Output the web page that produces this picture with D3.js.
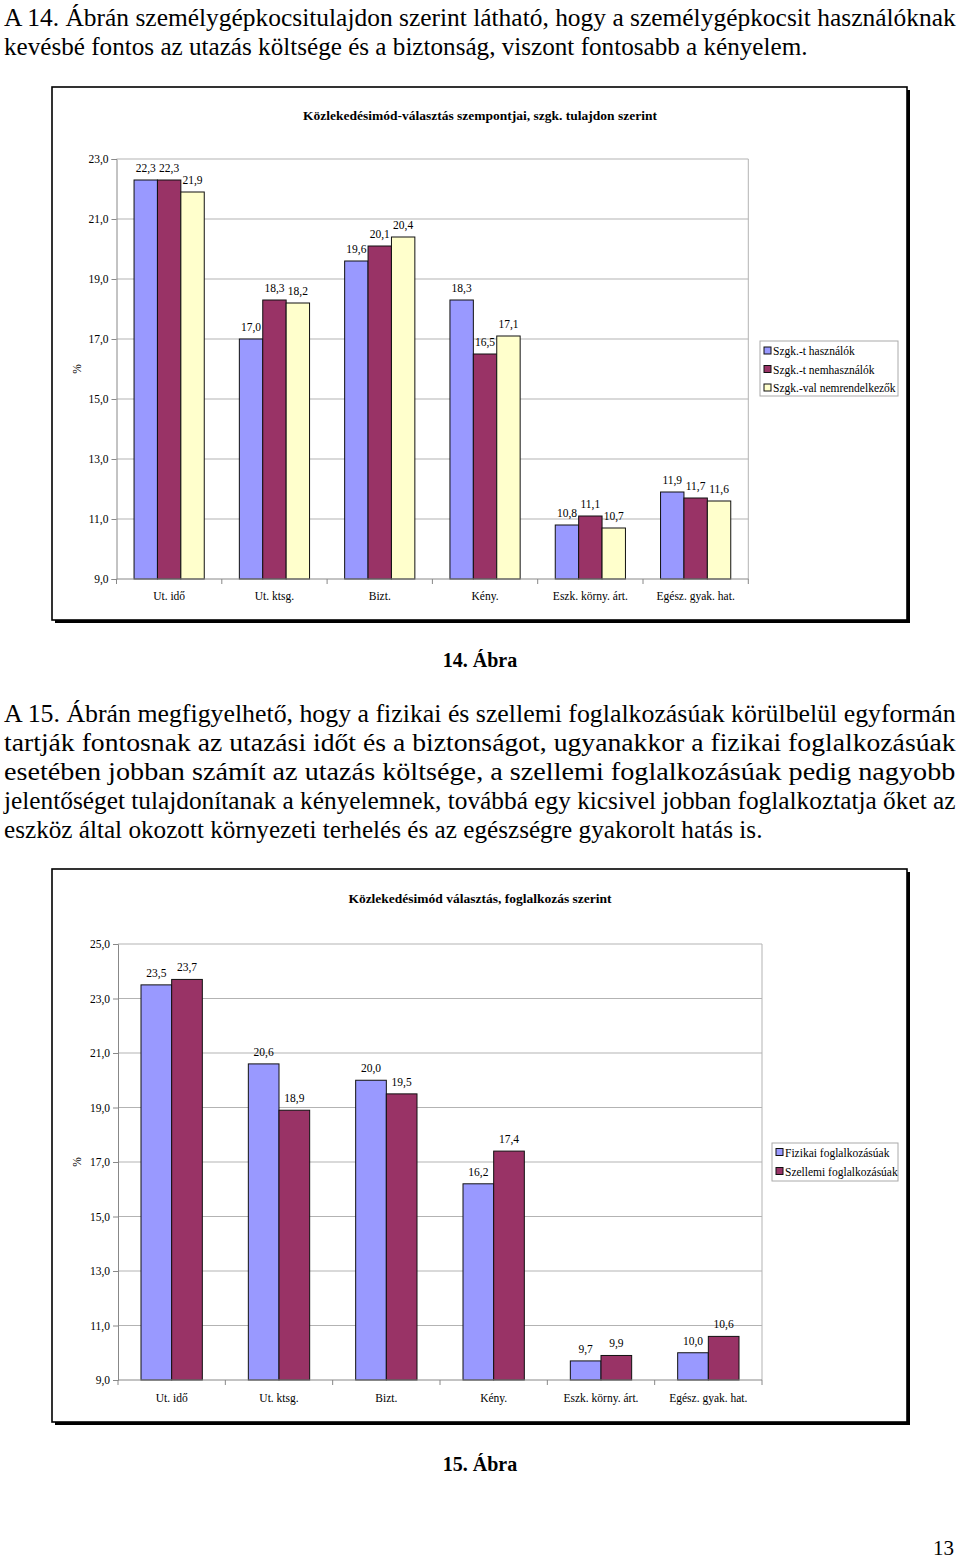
<!DOCTYPE html>
<html><head><meta charset="utf-8">
<script src="https://cdn.jsdelivr.net/npm/d3@7"></script>
<style>
body{margin:0;background:#fff}
svg{display:block}
text{font-family:"Liberation Serif","Times New Roman",serif;fill:#000}
</style></head>
<body><svg id="page" width="960" height="1561"></svg>
<script>
// ---------- DATA ----------
const categories = ["Ut. idő","Ut. ktsg.","Bizt.","Kény.","Eszk. körny. árt.","Egész. gyak. hat."];

const series1Names = ["Szgk.-t használók","Szgk.-t nemhasználók","Szgk.-val nemrendelkezők"];
const carUsers    = [22.3,17.0,19.6,18.3,10.8,11.9];
const carNonUsers = [22.3,18.3,20.1,16.5,11.1,11.7];
const noCar       = [21.9,18.2,20.4,17.1,10.7,11.6];
const yTicks1 = [9,11,13,15,17,19,21,23];

const series2Names = ["Fizikai foglalkozásúak","Szellemi foglalkozásúak"];
const physical = [23.5,20.6,20.0,16.2,9.7,10.0];
const mental   = [23.7,18.9,19.5,17.4,9.9,10.6];
const yTicks2 = [9,11,13,15,17,19,21,23,25];

const title1 = "Közlekedésimód-választás szempontjai, szgk. tulajdon szerint";
const title2 = "Közlekedésimód választás, foglalkozás szerint";

const para1 = [
  "A 14. Ábrán személygépkocsitulajdon szerint látható, hogy a személygépkocsit használóknak",
  "kevésbé fontos az utazás költsége és a biztonság, viszont fontosabb a kényelem."
];
const para2 = [
  "A 15. Ábrán megfigyelhető, hogy a fizikai és szellemi foglalkozásúak körülbelül egyformán",
  "tartják fontosnak az utazási időt és a biztonságot, ugyanakkor a fizikai foglalkozásúak",
  "esetében jobban számít az utazás költsége, a szellemi foglalkozásúak pedig nagyobb",
  "jelentőséget tulajdonítanak a kényelemnek, továbbá egy kicsivel jobban foglalkoztatja őket az",
  "eszköz által okozott környezeti terhelés és az egészségre gyakorolt hatás is."
];
const caption1 = "14. Ábra";
const caption2 = "15. Ábra";
const pageNumber = "13";

// ---------- STYLE ----------
const COLORS = ["#9999FF","#993366","#FFFFCC"];
const svg = d3.select("#page");
svg.append("rect").attr("width",960).attr("height",1561).attr("fill","#fff");

// body text lines: scaled horizontally to the measured line widths
function textLines(lines, y0, widths){
  lines.forEach((l,i)=>{
    const t = svg.append("text").attr("x",0).attr("y",0)
      .attr("font-size",25.5).text(l);
    const nat = t.node().getComputedTextLength();
    const k = widths[i]/nat;
    t.attr("transform",`translate(4,${y0+i*29}) scale(${k},1)`);
  });
}
textLines(para1, 26, [952, 804]);
textLines(para2, 722, [952,952,952,952,759]);

svg.append("text").attr("x",480).attr("y",667).attr("text-anchor","middle")
  .attr("font-size",20).attr("font-weight","bold").text(caption1);
svg.append("text").attr("x",480).attr("y",1471).attr("text-anchor","middle")
  .attr("font-size",20).attr("font-weight","bold").text(caption2);
svg.append("text").attr("x",954).attr("y",1555).attr("text-anchor","end")
  .attr("font-size",21).text(pageNumber);

const fmt = v => d3.format(".1f")(v).replace(".",",");

function drawChart(cfg){
  const g = svg.append("g");
  const f = cfg.frame;
  // frame with shadow
  g.append("path").attr("d",`M${f.x0+3},${f.y1+1.5}H${f.x1+1.5}V${f.y0+3}`)
    .attr("fill","none").attr("stroke","#000").attr("stroke-width",3);
  g.append("rect").attr("x",f.x0).attr("y",f.y0).attr("width",f.x1-f.x0).attr("height",f.y1-f.y0)
    .attr("fill","#fff").attr("stroke","#000").attr("stroke-width",1.6);

  const p = cfg.plot;
  const y = d3.scaleLinear().domain(cfg.domain).range([p.y1,p.y0]);
  const x0 = d3.scaleBand().domain(categories).range([p.x0,p.x1]).padding(0);
  const bw = x0.bandwidth();
  const nS = cfg.names.length;
  const barW = bw/(nS+1.5);
  const x1 = d3.scaleBand().domain(cfg.names).range([barW*0.75, bw-barW*0.75]).padding(0);

  // gridlines
  g.append("g").selectAll("line").data(cfg.ticks.slice(1)).join("line")
    .attr("x1",p.x0).attr("x2",p.x1).attr("y1",d=>y(d)).attr("y2",d=>y(d))
    .attr("stroke","#b3b3b3").attr("stroke-width",1);
  // right plot border
  g.append("line").attr("x1",p.x1).attr("x2",p.x1).attr("y1",p.y0).attr("y2",p.y1)
    .attr("stroke","#b3b3b3").attr("stroke-width",1);

  // y axis
  const ya = g.append("g").attr("transform",`translate(${p.x0},0)`)
    .call(d3.axisLeft(y).tickValues(cfg.ticks).tickFormat(fmt).tickSize(5).tickPadding(3));
  ya.select(".domain").attr("stroke","#888");
  ya.selectAll(".tick line").attr("stroke","#888");
  ya.selectAll("text").attr("font-size",11.5).attr("font-family","Liberation Serif, serif").attr("fill","#000");

  // bars
  cfg.values.forEach((vals,si)=>{
    g.append("g").selectAll("rect").data(vals).join("rect")
      .attr("x",(d,i)=>x0(categories[i])+x1(cfg.names[si]))
      .attr("y",d=>y(d)).attr("width",x1.bandwidth()).attr("height",d=>y(cfg.domain[0])-y(d))
      .attr("fill",COLORS[si]).attr("stroke","#111").attr("stroke-width",1);
  });
  // labels
  cfg.values.forEach((vals,si)=>{
    g.append("g").selectAll("text").data(vals).join("text")
      .attr("x",(d,i)=>x0(categories[i])+x1(cfg.names[si])+x1.bandwidth()/2)
      .attr("y",d=>y(d)-8).attr("text-anchor","middle").attr("font-size",11.5)
      .text(fmt);
  });

  // x axis
  const xa = g.append("g").attr("transform",`translate(0,${p.y1})`);
  xa.append("line").attr("x1",p.x0).attr("x2",p.x1).attr("stroke","#888");
  xa.selectAll(".tk").data(d3.range(categories.length+1)).join("line").attr("class","tk")
    .attr("x1",i=>p.x0+i*bw).attr("x2",i=>p.x0+i*bw).attr("y1",0).attr("y2",5).attr("stroke","#888");
  xa.selectAll("text").data(categories).join("text")
    .attr("x",d=>x0(d)+bw/2).attr("y",cfg.xLabelDy).attr("text-anchor","middle").attr("font-size",11.5)
    .text(d=>d);

  // title
  g.append("text").attr("x",480).attr("y",cfg.titleY).attr("text-anchor","middle")
    .attr("font-size",13.5).attr("font-weight","bold").text(cfg.title);
  // % label
  g.append("text").attr("transform",`translate(81,${cfg.pctY}) rotate(-90)`).attr("text-anchor","middle")
    .attr("font-size",11.5).text("%");

  // legend
  const L = cfg.legend;
  g.append("rect").attr("x",L.x).attr("y",L.y).attr("width",L.w).attr("height",L.h)
    .attr("fill","#fff").attr("stroke","#aaa").attr("stroke-width",1);
  const li = g.append("g").selectAll("g").data(cfg.names).join("g")
    .attr("transform",(d,i)=>`translate(${L.x+4},${L.y+L.first+i*L.step})`);
  li.append("rect").attr("x",0).attr("y",-4).attr("width",7).attr("height",7)
    .attr("fill",(d,i)=>COLORS[i]).attr("stroke","#111").attr("stroke-width",1);
  li.append("text").attr("x",9).attr("y",4).attr("font-size",11.5).text(d=>d);
}

drawChart({
  frame:{x0:52,y0:87,x1:907,y1:620},
  plot:{x0:116.5,x1:748.3,y0:159,y1:579},
  domain:[9,23], ticks:yTicks1,
  names:series1Names, values:[carUsers,carNonUsers,noCar],
  title:title1, titleY:120, pctY:369, xLabelDy:21,
  legend:{x:760,y:341,w:138,h:55,first:10,step:18.5}
});
drawChart({
  frame:{x0:52,y0:869,x1:907,y1:1422},
  plot:{x0:118,x1:762,y0:944,y1:1380},
  domain:[9,25], ticks:yTicks2,
  names:series2Names, values:[physical,mental],
  title:title2, titleY:903, pctY:1162, xLabelDy:22,
  legend:{x:772,y:1143,w:126,h:38,first:9.5,step:19}
});
</script></body></html>
